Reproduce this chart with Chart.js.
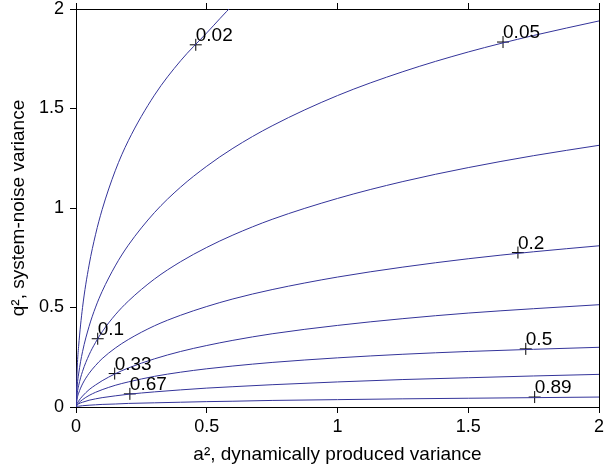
<!DOCTYPE html>
<html>
<head>
<meta charset="utf-8">
<script src="https://cdn.jsdelivr.net/npm/chart.js@4"></script>
<style>
  html, body { margin: 0; padding: 0; background: #fff; }
  #wrap { width: 606px; height: 470px; }
</style>
</head>
<body>
<div id="wrap"><canvas id="c" width="606" height="470"></canvas></div>
<script>
// a^2 sample positions for the contour curves
const aGrid = [0, 0.005, 0.01, 0.025, 0.05, 0.075, 0.1, 0.15, 0.2, 0.3, 0.4, 0.5, 0.6, 0.75, 1, 1.25, 1.5, 1.75, 2];

// q^2 (top-left to bottom-right)
const q002 = [0, 0.206, 0.304, 0.5, 0.713, 0.868, 0.992, 1.187, 1.338, 1.567, 1.74, 1.88, 2.02, 2.2];
const q005 = [0, 0.111, 0.166, 0.278, 0.405, 0.502, 0.581, 0.709, 0.813, 0.977, 1.105, 1.21, 1.30, 1.413, 1.565, 1.685, 1.784, 1.867, 1.94];
const q010 = [0, 0.071, 0.107, 0.179, 0.262, 0.325, 0.378, 0.463, 0.532, 0.643, 0.73, 0.802, 0.864, 0.943, 1.048, 1.133, 1.203, 1.263, 1.315];
const q020 = [0, 0.046, 0.069, 0.116, 0.169, 0.209, 0.243, 0.296, 0.339, 0.408, 0.461, 0.505, 0.543, 0.59, 0.653, 0.703, 0.745, 0.78, 0.81];
const q033 = [0, 0.019, 0.03, 0.055, 0.087, 0.111, 0.132, 0.167, 0.196, 0.242, 0.279, 0.309, 0.335, 0.368, 0.41, 0.444, 0.472, 0.494, 0.514];
const q050 = [0, 0.013, 0.02, 0.037, 0.058, 0.074, 0.087, 0.109, 0.126, 0.154, 0.175, 0.192, 0.206, 0.224, 0.247, 0.265, 0.279, 0.29, 0.30];
const q067 = [0, 0.011, 0.016, 0.024, 0.034, 0.041, 0.047, 0.056, 0.064, 0.076, 0.086, 0.095, 0.102, 0.112, 0.126, 0.138, 0.147, 0.156, 0.164];
const q089 = [0, 0.003, 0.004, 0.0065, 0.009, 0.011, 0.013, 0.015, 0.018, 0.021, 0.024, 0.027, 0.029, 0.033, 0.037, 0.041, 0.044, 0.047, 0.05];

const curves = [q002, q005, q010, q020, q033, q050, q067, q089];

// labelled "+" marks on the contours
const markText = ['0.02', '0.05', '0.1', '0.2', '0.33', '0.5', '0.67', '0.89'];
const markA = [0.458, 1.633, 0.083, 1.69, 0.148, 1.72, 0.206, 1.754];
const markQ = [1.82, 1.834, 0.343, 0.776, 0.168, 0.292, 0.066, 0.05];

const FONT = 'Liberation Sans, Arial, Helvetica, sans-serif';
const LINE = '#34349a';

const datasets = curves.map(ys => ({
  data: ys.map((y, i) => ({ x: aGrid[i], y })),
  showLine: true,
  borderColor: LINE,
  borderWidth: 1,
  pointRadius: 0,
  cubicInterpolationMode: 'monotone'
}));

datasets.push({
  data: markA.map((x, i) => ({ x, y: markQ[i] })),
  showLine: false,
  pointStyle: 'cross',
  pointRadius: 6,
  borderColor: '#000',
  borderWidth: 1
});

// text next to the "+" marks
const markLabels = {
  id: 'markLabels',
  afterDatasetsDraw(chart) {
    const { ctx, scales } = chart;
    ctx.save();
    ctx.font = '19px ' + FONT;
    ctx.fillStyle = '#000';
    ctx.textAlign = 'left';
    ctx.textBaseline = 'alphabetic';
    markText.forEach((t, i) => {
      const px = scales.x.getPixelForValue(markA[i]);
      const py = scales.y.getPixelForValue(markQ[i]);
      ctx.fillText(t, px, py - 4);
    });
    ctx.restore();
  }
};

const fmt = v => String(+Number(v).toFixed(2));

const axisCommon = {
  type: 'linear',
  min: 0,
  max: 2,
  border: { color: '#000', width: 1 },
  grid: { drawOnChartArea: false, color: '#000', tickLength: 6 }
};

new Chart(document.getElementById('c'), {
  type: 'scatter',
  data: { datasets },
  options: {
    responsive: false,
    animation: false,
    layout: { padding: 0 },
    plugins: { legend: { display: false }, tooltip: { enabled: false } },
    scales: {
      x: {
        ...axisCommon,
        position: 'bottom',
        ticks: { stepSize: 0.5, color: '#000', font: { family: FONT, size: 18 }, padding: 3, maxRotation: 0, callback: fmt },
        title: { display: true, text: 'a², dynamically produced variance', color: '#000', font: { family: FONT, size: 19 }, padding: { top: 0, bottom: 4 } },
        afterFit: s => { s.height = 63; s.paddingLeft = 0; s.paddingRight = 0; }
      },
      x2: {
        ...axisCommon,
        position: 'top',
        ticks: { stepSize: 0.5, display: false },
        afterFit: s => { s.height = 9; s.paddingLeft = 0; s.paddingRight = 0; }
      },
      y: {
        ...axisCommon,
        position: 'left',
        ticks: { stepSize: 0.5, color: '#000', font: { family: FONT, size: 18 }, padding: 6, callback: fmt },
        title: { display: true, text: 'q², system-noise variance', color: '#000', font: { family: FONT, size: 19 }, padding: { top: 7, bottom: 0 } },
        afterFit: s => { s.width = 76; s.paddingTop = 0; s.paddingBottom = 0; }
      },
      y2: {
        ...axisCommon,
        position: 'right',
        ticks: { display: false },
        grid: { drawOnChartArea: false, drawTicks: false, color: '#000' },
        afterFit: s => { s.width = 3; }
      }
    }
  },
  plugins: [markLabels]
});
</script>
</body>
</html>
